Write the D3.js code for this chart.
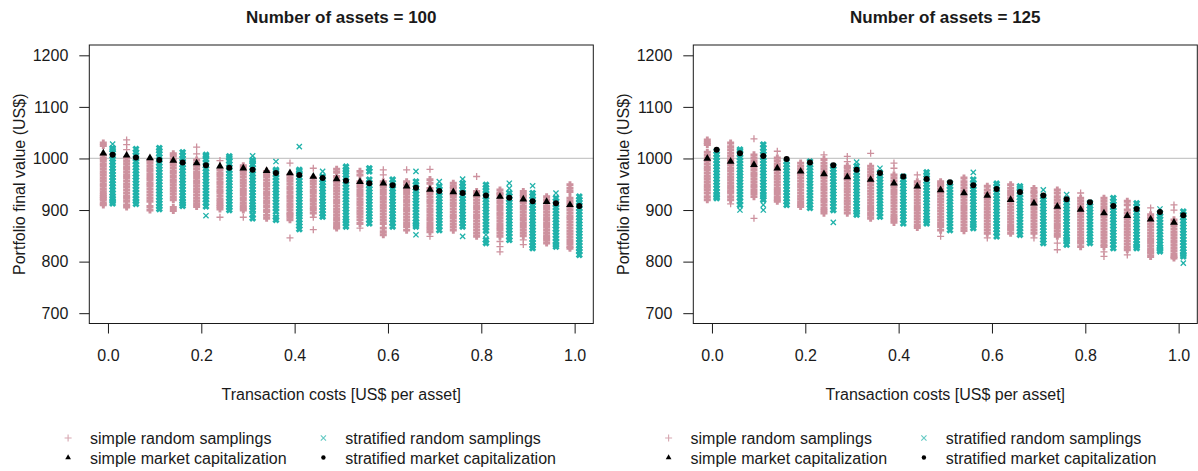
<!DOCTYPE html>
<html>
<head>
<meta charset="utf-8">
<script src="https://cdn.jsdelivr.net/npm/d3@7"></script>
<style>
  body { margin: 0; background: #fff; }
  svg { display: block; font-family: "Liberation Sans", Arial, sans-serif; }
</style>
</head>
<body>
<svg id="chart" width="1198" height="471"></svg>
<script>
// transaction costs (x categories) and axis ticks
const costs = [0, 0.05, 0.1, 0.15, 0.2, 0.25, 0.3, 0.35, 0.4, 0.45, 0.5, 0.55, 0.6, 0.65, 0.7, 0.75, 0.8, 0.85, 0.9, 0.95, 1.0];
const xTicks = [0, 0.2, 0.4, 0.6, 0.8, 1.0];
const yTicks = [700, 800, 900, 1000, 1100, 1200];

// ---- 100 assets ----
const simpleCap100 = [1010, 1006, 1001, 996, 991, 985, 981, 976, 972, 965, 960, 955, 952, 946, 940, 935, 931, 926, 921, 916, 910];
const stratCap100 = [1007, 1002, 997, 992, 987, 982, 978, 972, 968, 962, 957, 952, 948, 943, 937, 933, 928, 924, 917, 913, 908];
const simpleRandom100 = [
  [1030,1025,1007,1001,996,990,985,979,973,968,962,957,951,946,940,935,930,926,923,919,913,910],
  [1036,1027,1017,1001,995,990,984,979,973,967,962,956,950,945,939,933,927,923,917,910,906],
  [997,992,986,980,975,969,963,958,952,947,941,935,929,923,917,907,900],
  [1009,1005,999,993,988,982,976,971,965,959,954,948,942,937,931,925,920,905,899],
  [1022,1009,997,991,986,980,974,969,963,957,952,946,940,935,929,923,917,912,907],
  [996,978,972,967,961,955,950,944,938,933,927,921,916,911,907,902,886],
  [986,981,975,970,964,958,953,947,941,936,930,924,919,913,908,904,900,886],
  [975,969,964,958,952,947,941,935,930,924,918,913,907,900,897,890,884],
  [991,968,962,957,951,945,940,934,928,923,917,911,906,900,894,891,886,881,846],
  [981,962,956,951,945,939,934,928,922,917,911,905,900,894,886,862],
  [979,973,965,959,954,948,942,937,931,925,919,914,908,902,897,891,885,880,874,868,865],
  [975,968,955,949,944,938,932,927,921,915,910,904,898,893,887,881,874,865],
  [978,968,955,949,944,938,932,926,921,915,909,904,898,892,886,880,874,865,858,852],
  [978,955,949,943,938,932,926,920,915,909,903,898,892,886,880,874,868,861],
  [979,959,952,942,936,931,925,919,914,908,902,897,891,885,880,874,868,863,858,849],
  [952,946,942,936,930,925,919,913,908,902,896,890,885,879,873,867,861],
  [965,936,930,925,919,913,907,902,896,890,885,879,873,867,861,855,849],
  [939,933,930,924,918,913,907,901,895,890,884,878,872,866,861,855,849,839,829,819],
  [936,930,926,920,914,908,903,897,891,885,880,874,868,862,856,850,842,833],
  [926,920,914,908,903,897,891,885,880,874,868,862,856,850,846,842,836],
  [949,942,936,923,917,912,906,900,894,888,883,877,871,865,859,853,847,841,835,829,826]
];
const stratRandom100 = [
  [1028,1020,1017,1011,1005,999,993,987,981,975,969,963,957,951,945,939,933,927,922,917,913],
  [1018,1012,1006,1000,994,988,982,976,970,964,958,952,946,940,934,928,922,917,912],
  [1020,1015,1009,1003,997,991,985,979,973,967,961,955,949,943,937,931,925,919,913,907,902],
  [1012,1006,1000,994,988,982,976,970,964,958,952,946,940,934,928,922,917,912,908],
  [1007,1004,998,992,986,980,974,968,962,956,950,944,938,932,926,920,914,907,889],
  [1004,1001,995,989,983,977,971,965,959,953,947,941,935,929,923,917,911,905,900],
  [1005,997,994,988,982,976,970,964,958,952,946,940,934,928,922,916,910,905,900,891,884],
  [994,978,975,969,963,957,951,945,939,933,927,921,915,909,903,897,886,881],
  [1023,978,975,969,963,957,951,945,939,933,927,921,915,909,903,897,892,887,881,875,869,863],
  [975,965,959,953,947,941,935,929,923,917,911,905,899,893,887],
  [984,978,974,968,962,956,950,944,938,932,926,920,914,908,902,896,890,884,879,874,868],
  [981,975,959,953,947,941,935,929,923,917,911,905,899,893,887,881,874],
  [959,953,947,941,935,929,923,917,911,905,899,893,887,881,875,868],
  [975,955,949,943,937,931,925,919,913,907,901,895,889,883,877,872,868,852],
  [955,946,940,934,928,922,916,910,904,898,892,886,880,874,868,861],
  [960,952,946,940,934,928,922,916,910,904,898,892,886,880,874,868,849],
  [949,943,938,932,926,920,914,908,902,896,890,884,878,872,866,860,852,842,836],
  [952,942,933,927,921,915,909,903,897,891,885,879,873,867,861,855,848,842],
  [947,933,927,921,915,909,903,897,891,885,879,873,867,861,855,849,843,837,831,826],
  [933,923,917,911,905,899,893,887,881,875,869,863,857,851,845,839,833,829],
  [926,920,915,909,903,897,891,885,879,873,867,861,855,849,843,837,831,825,820,813]
];

// ---- 125 assets ----
const simpleCap125 = [1000, 994, 988, 981, 975, 970, 964, 959, 952, 946, 939, 933, 928, 920, 913, 907, 901, 894, 889, 882, 876];
const stratCap125 = [1017, 1010, 1005, 999, 992, 987, 978, 972, 965, 960, 954, 948, 941, 935, 928, 921, 915, 908, 902, 896, 890];
const simpleRandom125 = [
  [1036,1031,1027,1012,1006,1000,995,989,983,978,972,966,961,955,949,944,939,933,926,920],
  [1030,1023,1017,1010,1004,998,993,987,981,976,970,964,959,953,947,942,937,933,926,920,912],
  [1038,1007,1001,995,990,984,978,972,967,961,955,949,944,938,932,926,884],
  [1014,1001,995,989,984,978,972,966,961,955,949,943,938,932,926,921,917],
  [991,985,979,973,968,962,956,950,945,939,933,927,922,916,911,907],
  [1007,998,991,985,979,973,968,962,956,950,944,939,933,927,921,916,910,904,899,894],
  [1004,994,985,981,975,969,963,958,952,946,940,935,929,923,917,912,906,900,894],
  [1010,985,979,973,967,961,955,949,943,937,931,925,919,913,907,901,895,890,884],
  [991,981,968,962,956,950,944,938,932,926,920,914,908,902,896,890,885,881,876],
  [968,955,949,943,937,931,925,919,913,907,901,895,889,883,877,871,866],
  [955,950,946,940,934,928,922,916,910,904,898,892,886,880,874,868,861,849],
  [962,955,949,943,937,931,925,919,913,907,901,895,889,883,877,871,865,860],
  [946,939,933,927,921,915,909,903,897,891,885,879,873,867,861,855,846],
  [949,942,936,930,924,918,912,906,900,894,888,882,876,870,865,861,855],
  [942,936,933,927,921,915,909,903,897,891,885,879,873,867,861,855,846],
  [939,933,926,920,914,908,902,896,890,884,878,872,866,860,854,849,836,823],
  [933,923,917,911,905,899,893,887,881,875,869,863,857,851,845,840,836,829],
  [923,917,911,905,899,893,887,881,875,869,863,857,851,845,839,833,829,819,810],
  [917,910,900,894,888,882,876,870,864,858,852,846,840,834,828,823,813],
  [904,891,885,879,873,867,861,855,849,843,837,831,825,820,816,810],
  [910,900,881,875,869,863,857,851,845,839,833,827,821,815,810,807]
];
const stratRandom125 = [
  [1014,1008,1002,996,990,984,978,972,966,960,954,948,942,936,930,926,923],
  [1017,1014,1008,1002,996,990,984,978,972,966,960,954,948,942,936,930,924,917,910,900],
  [1027,1020,1014,1008,1002,996,990,984,978,972,966,960,954,948,942,936,930,926,920,910,900],
  [994,988,982,976,970,964,958,952,946,940,934,928,922,916,910],
  [994,988,982,976,970,964,958,952,946,940,934,928,922,916,910,904],
  [985,979,973,967,961,955,949,943,937,931,925,919,913,907,900,876],
  [993,985,979,973,967,961,955,949,943,937,931,925,919,913,907,901,896,891],
  [981,972,966,960,954,948,942,936,930,924,918,912,906,900,894,887],
  [965,959,953,947,941,935,929,923,917,911,905,899,893,887,881,874],
  [973,968,962,956,950,944,938,932,926,920,914,908,902,896,890,884,879,874],
  [952,946,940,934,928,922,916,910,904,898,892,886,880,874,868,861],
  [973,959,952,946,940,934,928,922,916,910,904,898,892,886,880,874,870,865],
  [951,946,940,934,928,922,916,910,904,898,892,886,880,874,868,862,856,849],
  [946,942,936,930,924,918,912,906,900,894,888,882,876,870,864,858,852],
  [939,926,920,914,908,902,896,890,884,878,872,866,860,854,848,842,836],
  [930,920,914,908,902,896,890,884,878,872,866,860,854,848,843,839,833],
  [914,908,902,896,890,884,878,872,866,860,854,848,842,836],
  [923,917,911,905,899,893,887,881,875,869,863,857,851,845,839,833,826],
  [913,907,901,895,889,883,877,871,865,859,853,847,841,835,830,826],
  [902,894,888,882,876,870,864,858,852,846,840,834,828,824,820],
  [897,891,885,879,873,867,861,855,849,843,837,831,825,819,814,810,797]
];

const legendLabels = ["simple random samplings", "stratified random samplings", "simple market capitalization", "stratified market capitalization"];

const PINK = "#cd919e";
const TEAL = "#20b2aa";
const INK = "#1a1a1a";

const svg = d3.select("#chart");
const plusPath = "M-3.5,0H3.5M0,-3.5V3.5";
const timesPath = "M-2.6,-2.6L2.6,2.6M-2.6,2.6L2.6,-2.6";

const panels = [
  { title: "Number of assets = 100", left: 89.3, simple: simpleRandom100, strat: stratRandom100, sCap: simpleCap100, tCap: stratCap100, legendX: 0 },
  { title: "Number of assets = 125", left: 693.3, simple: simpleRandom125, strat: stratRandom125, sCap: simpleCap125, tCap: stratCap125, legendX: 600.5 }
];

const boxTop = 45, boxBottom = 323.5, boxW = 504;

// many overlapping samples render as a solid bar; lone samples stay thin
function toPoints(cols, offset) {
  const pts = [];
  cols.forEach((vals, i) => {
    vals.forEach(v => {
      const near = vals.filter(w => w !== v && Math.abs(w - v) <= 7).length;
      pts.push({ c: costs[i] + offset, v, dense: near >= 1 });
    });
  });
  return pts;
}

panels.forEach(p => {
  const g = svg.append("g");
  const x = d3.scaleLinear().domain([-0.04, 1.04]).range([p.left, p.left + boxW]);
  const y = d3.scaleLinear().domain([680, 1220]).range([boxBottom, boxTop]);

  // reference line at 1000
  g.append("line")
    .attr("x1", p.left).attr("x2", p.left + boxW)
    .attr("y1", y(1000)).attr("y2", y(1000))
    .attr("stroke", "#c8c8c8").attr("stroke-width", 1.3);

  // random samplings
  g.append("g").selectAll("path").data(toPoints(p.simple, -0.01)).join("path")
    .attr("d", plusPath)
    .attr("transform", d => `translate(${x(d.c)},${y(d.v)})`)
    .attr("fill", "none").attr("stroke", PINK)
    .attr("stroke-width", d => d.dense ? 2.9 : 1.3);

  g.append("g").selectAll("path").data(toPoints(p.strat, 0.01)).join("path")
    .attr("d", timesPath)
    .attr("transform", d => `translate(${x(d.c)},${y(d.v)})`)
    .attr("fill", "none").attr("stroke", TEAL)
    .attr("stroke-width", d => d.dense ? 2.9 : 1.3);

  // market capitalization portfolios
  const tri = d3.symbol().type(d3.symbolTriangle).size(26);
  g.append("g").selectAll("path").data(p.sCap).join("path")
    .attr("d", tri)
    .attr("transform", (d, i) => `translate(${x(costs[i] - 0.01)},${y(d)})`)
    .attr("fill", "#000");

  g.append("g").selectAll("circle").data(p.tCap).join("circle")
    .attr("cx", (d, i) => x(costs[i] + 0.01))
    .attr("cy", d => y(d))
    .attr("r", 3)
    .attr("fill", "#000");

  // axes
  const yAxis = g.append("g")
    .attr("transform", `translate(${p.left},0)`)
    .call(d3.axisLeft(y).tickValues(yTicks).tickSize(10).tickPadding(11).tickFormat(d3.format("d")));
  const xAxis = g.append("g")
    .attr("transform", `translate(0,${boxBottom})`)
    .call(d3.axisBottom(x).tickValues(xTicks).tickSize(10).tickPadding(16).tickFormat(d3.format(".1f")));
  [yAxis, xAxis].forEach(a => {
    a.select(".domain").remove();
    a.selectAll("line").attr("stroke", INK);
    a.selectAll("text").attr("fill", INK).style("font-size", "16px").style("font-family", "'Liberation Sans', Arial, sans-serif");
  });

  // box
  g.append("rect")
    .attr("x", p.left).attr("y", boxTop)
    .attr("width", boxW).attr("height", boxBottom - boxTop)
    .attr("fill", "none").attr("stroke", INK).attr("stroke-width", 1);

  // titles
  g.append("text")
    .attr("x", p.left + boxW / 2).attr("y", 22.5)
    .attr("text-anchor", "middle")
    .style("font-size", "17px").style("font-weight", "bold")
    .attr("fill", INK)
    .text(p.title);

  g.append("text")
    .attr("x", p.left + boxW / 2).attr("y", 400)
    .attr("text-anchor", "middle")
    .style("font-size", "16px")
    .attr("fill", INK)
    .text("Transaction costs [US$ per asset]");

  g.append("text")
    .attr("transform", `translate(${p.left - 64},${(boxTop + boxBottom) / 2}) rotate(-90)`)
    .attr("text-anchor", "middle")
    .style("font-size", "16px")
    .attr("fill", INK)
    .text("Portfolio final value (US$)");

  // legend
  const symX = [68.1, 323.4], txtX = [90, 345.2];
  const rowY = [438, 457.5], baseY = [443.5, 464];
  const lg = g.append("g").attr("transform", `translate(${p.legendX},0)`);
  legendLabels.forEach((lab, i) => {
    const col = i % 2, row = Math.floor(i / 2);
    const sx = symX[col], sy = rowY[row];
    if (i === 0) {
      lg.append("path").attr("d", plusPath).attr("transform", `translate(${sx},${sy})`)
        .attr("fill", "none").attr("stroke", PINK).attr("stroke-opacity", 0.8).attr("stroke-width", 1.1);
    } else if (i === 1) {
      lg.append("path").attr("d", timesPath).attr("transform", `translate(${sx},${sy})`)
        .attr("fill", "none").attr("stroke", TEAL).attr("stroke-opacity", 0.7).attr("stroke-width", 1.1);
    } else if (i === 2) {
      lg.append("path").attr("d", d3.symbol().type(d3.symbolTriangle).size(14)())
        .attr("transform", `translate(${sx},${sy})`).attr("fill", "#000");
    } else {
      lg.append("circle").attr("cx", sx).attr("cy", sy).attr("r", 2.2).attr("fill", "#000");
    }
    lg.append("text")
      .attr("x", txtX[col]).attr("y", baseY[row])
      .style("font-size", "16px")
      .attr("fill", INK)
      .text(lab);
  });
});
</script>
</body>
</html>
